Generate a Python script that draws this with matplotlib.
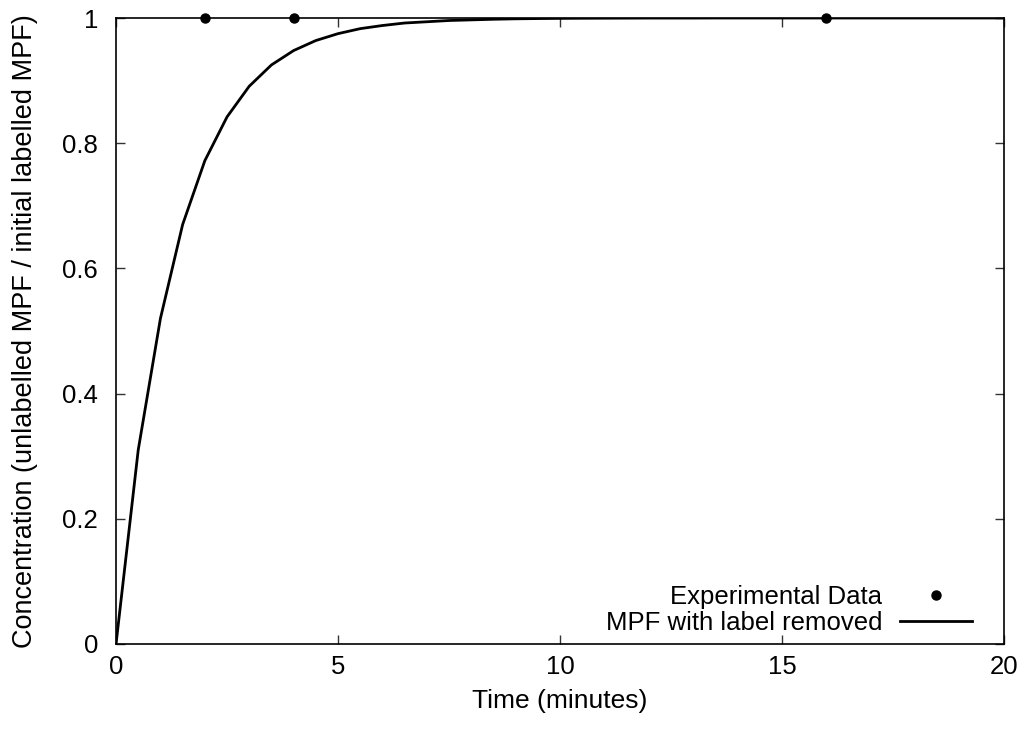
import numpy as np
import matplotlib
matplotlib.use("Agg")
import matplotlib.pyplot as plt

# model curve: MPF with label removed, sampled every 0.5 min
time_model = [0, 0.5, 1, 1.5, 2, 2.5, 3, 3.5, 4, 4.5, 5, 5.5, 6, 6.5, 7, 7.5,
              8, 8.5, 9, 9.5, 10, 10.5, 11, 11.5, 12, 12.5, 13, 13.5, 14, 14.5,
              15, 15.5, 16, 16.5, 17, 17.5, 18, 18.5, 19, 19.5, 20]
conc_model = [0, 0.31, 0.52, 0.67, 0.772, 0.842, 0.891, 0.925, 0.948, 0.964,
              0.975, 0.983, 0.988, 0.992, 0.994, 0.996, 0.997, 0.998, 0.9987,
              0.9991, 0.9994, 0.9996, 0.9997, 0.9998, 0.9999, 0.9999, 0.9999,
              1.0, 1.0, 1.0, 1.0, 1.0, 1.0, 1.0, 1.0, 1.0, 1.0, 1.0, 1.0, 1.0, 1.0]

# experimental data
time_exp = [2, 4, 16]
conc_exp = [1, 1, 1]

x_ticks = [0, 5, 10, 15, 20]
y_ticks = [0, 0.2, 0.4, 0.6, 0.8, 1]
y_tick_labels = ["0", "0.2", "0.4", "0.6", "0.8", "1"]

FS = 18.5
plt.rcParams['font.family'] = ['Liberation Sans', 'DejaVu Sans']
plt.rcParams['font.size'] = FS

fig = plt.figure(figsize=(10.25, 7.29), dpi=100)
ax = fig.add_axes([0.1132, 0.1166, 0.8663, 0.8587])

ax.plot(time_exp, conc_exp, 'o', color='black', markersize=6.5,
        label='Experimental Data', clip_on=False, zorder=5)
ax.plot(time_model, conc_model, '-', color='black', linewidth=2.0,
        label='MPF with label removed')

ax.set_xlim(0, 20)
ax.set_ylim(0, 1)
ax.set_xticks(x_ticks)
ax.set_yticks(y_ticks)
ax.set_yticklabels(y_tick_labels)
ax.tick_params(direction='in', length=6.5, width=1, top=True, right=True,
               labelsize=FS, color='#333333')
ax.tick_params(axis='x', pad=8)
ax.tick_params(axis='y', pad=13)
for s in ax.spines.values():
    s.set_linewidth(1.2)

ax.set_xlabel('Time (minutes)', fontsize=19, labelpad=7)
ax.set_ylabel('Concentration (unlabelled MPF / initial labelled MPF)',
              fontsize=19.5, labelpad=17)

ax.legend(loc='lower right', bbox_to_anchor=(0.964, 0.014), frameon=False,
          markerfirst=False, handlelength=2.8, handletextpad=0.7,
          labelspacing=0.1, numpoints=1, fontsize=FS, borderaxespad=0,
          borderpad=0)

fig.savefig('out.png', dpi=100)
